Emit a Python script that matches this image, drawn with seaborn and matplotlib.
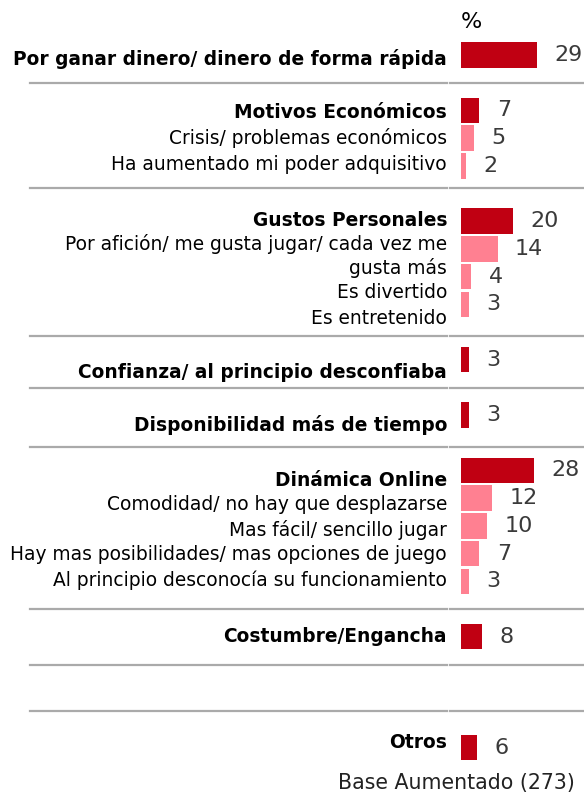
import pandas as pd
import seaborn as sns
import matplotlib.pyplot as plt
import matplotlib.transforms as mtransforms

# Datos
labels = [
    'Por ganar dinero/ dinero de forma rápida',
    'Motivos Económicos',
    'Crisis/ problemas económicos',
    'Ha aumentado mi poder adquisitivo',
    'Gustos Personales',
    'Por afición/ me gusta jugar/ cada vez me\ngusta más',
    'Es divertido',
    'Es entretenido',
    'Confianza/ al principio desconfiaba',
    'Disponibilidad más de tiempo',
    'Dinámica Online',
    'Comodidad/ no hay que desplazarse',
    'Mas fácil/ sencillo jugar',
    'Hay mas posibilidades/ mas opciones de juego',
    'Al principio desconocía su funcionamiento',
    'Costumbre/Engancha',
    'Otros',
]
values = [29, 7, 5, 2, 20, 14, 4, 3, 3, 3, 28, 12, 10, 7, 3, 8, 6]
kind = ['main', 'main', 'sub', 'sub', 'main', 'sub', 'sub', 'sub', 'main', 'main',
        'main', 'sub', 'sub', 'sub', 'sub', 'main', 'main']
# grupo 7 es un bloque vacío (una fila en blanco), por eso Otros va en el 9
group = [0, 1, 1, 1, 2, 2, 2, 2, 3, 4, 5, 5, 5, 5, 5, 6, 9]
base_text = 'Base Aumentado (273)'

# Maquetación (píxeles)
W, H = 584, 794
top, pitch = 55, 27.7
x0_px, px_per_unit = 461, 2.62
label_px = [59, 112, 138, 165, 220, 256, 292, 318, 372, 425, 480, 505, 530, 555, 580, 637, 743]
sep_px = [83, 188, 336, 388, 447, 609, 665, 711]

df = pd.DataFrame({'label': labels, 'value': values, 'kind': kind, 'group': group})
df['slot'] = range(len(df))
df['slot'] = df['slot'] + df['group']
df['y'] = top + pitch * df['slot']

fig = plt.figure(figsize=(W / 100, H / 100), dpi=100)
ax = fig.add_axes([0, 0, 1, 1])

sns.barplot(data=df, x='value', y='y', hue='kind', orient='h', native_scale=True,
            dodge=False, width=0.92, palette={'main': '#C00012', 'sub': '#FF8091'},
            saturation=1, legend=False, ax=ax, linewidth=0)

ax.set_xlim(-x0_px / px_per_unit, (W - x0_px) / px_per_unit)
ax.set_ylim(H, 0)
ax.axis('off')

# Etiquetas de categoría
lab_x = -14 / px_per_unit
for lab, k, ly in zip(labels, kind, label_px):
    ax.text(lab_x, ly, lab, ha='right', va='center', multialignment='right',
            fontsize=13.4, fontweight='bold' if k == 'main' else 'normal',
            color='black', linespacing=1.3)

# Valores
for v, y in zip(df['value'], df['y']):
    ax.annotate(f'{v}', (v, y), xytext=(12.5, 0), textcoords='offset points',
                ha='left', va='center', fontsize=16, color='#3A3A3A')

# Líneas separadoras
trans = mtransforms.blended_transform_factory(ax.transAxes, ax.transData)
for s in sep_px:
    ax.plot([30 / W, 447 / W], [s, s], color='#AAAAAA', lw=1.6, transform=trans)
    ax.plot([450 / W, 1.0], [s, s], color='#AAAAAA', lw=1.6, transform=trans)

ax.text(0, 22, '%', ha='left', va='center', fontsize=16, color='black')
ax.text(-123 / px_per_unit, 783, base_text, ha='left', va='center', fontsize=14.8, color='#222222')

fig.savefig('out.png', dpi=100)
